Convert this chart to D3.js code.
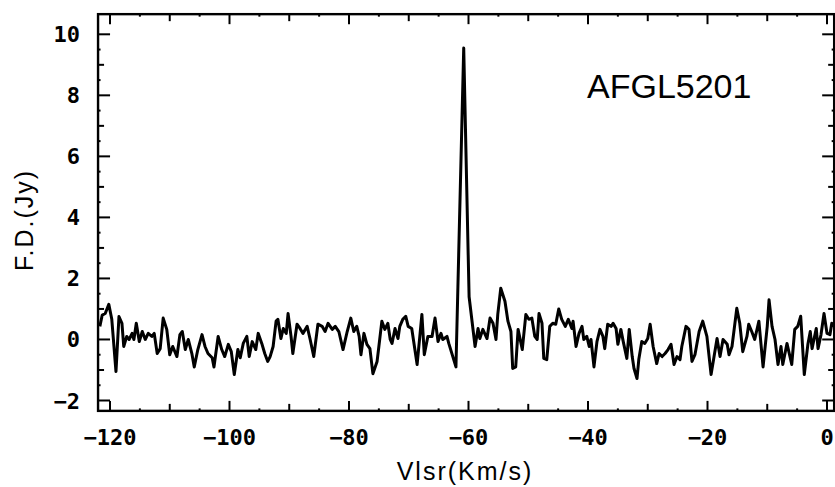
<!DOCTYPE html>
<html>
<head>
<meta charset="utf-8">
<script src="https://cdn.jsdelivr.net/npm/d3@7"></script>
<style>
  body { margin: 0; background: #fff; }
  .tick-label { font-family: "DejaVu Sans Mono", monospace; font-size: 22px; font-weight: bold; fill: #000; }
  .axis-title { font-family: "Liberation Sans", Arial, sans-serif; font-size: 25px; fill: #000; letter-spacing: 2px; }
</style>
</head>
<body>
<svg id="chart" width="835" height="487"></svg>
<script>
// spectrum: velocity (km/s) and flux density (Jy)
var vlsr = [-121.7,-121.3,-120.8,-120.2,-119.7,-119.0,-118.5,-118.0,-117.7,-117.2,-116.8,-116.3,-116.0,-115.6,-115.1,-114.6,-114.1,-113.6,-113.0,-112.6,
  -112.1,-111.6,-111.1,-110.5,-110.0,-109.5,-108.8,-108.3,-107.9,-107.4,-106.9,-106.3,-105.9,-105.3,-104.6,-104.1,-103.6,-102.9,-102.6,-101.9,
  -101.3,-100.8,-100.2,-99.7,-99.2,-98.6,-98.2,-97.7,-97.1,-96.7,-96.2,-95.6,-95.2,-94.6,-94.1,-93.6,-93.2,-92.7,-92.2,-91.9,
  -91.4,-91.0,-90.5,-90.2,-89.7,-89.4,-88.7,-88.2,-87.7,-87.0,-86.5,-85.9,-85.2,-84.5,-84.0,-83.5,-82.8,-82.3,-81.7,-81.0,
  -80.3,-79.7,-79.2,-78.7,-78.3,-78.0,-77.5,-77.0,-76.5,-76.0,-75.3,-75.0,-74.5,-74.0,-73.5,-73.1,-72.8,-72.3,-71.8,-71.5,
  -71.0,-70.5,-70.1,-69.5,-68.6,-68.1,-67.8,-67.4,-66.8,-66.1,-65.6,-65.1,-64.6,-64.3,-63.6,-63.3,-62.1,-60.8,-59.9,-58.9,
  -58.4,-58.1,-57.6,-56.9,-56.4,-55.9,-55.4,-55.1,-54.6,-53.9,-53.4,-52.9,-52.6,-52.1,-51.7,-51.0,-50.4,-49.9,-49.4,-48.9,
  -48.5,-48.2,-47.7,-47.4,-46.9,-46.4,-45.9,-45.4,-44.9,-44.4,-43.8,-43.3,-42.7,-42.5,-42.0,-41.5,-41.0,-40.7,-40.2,-39.8,
  -39.5,-39.0,-38.5,-38.0,-37.5,-37.2,-36.7,-36.1,-35.8,-35.3,-35.0,-34.5,-34.1,-33.5,-33.1,-32.6,-32.3,-31.8,-31.5,-31.0,
  -30.5,-30.0,-29.6,-29.1,-28.5,-28.1,-27.6,-27.1,-26.6,-26.1,-25.6,-25.1,-24.6,-24.3,-23.6,-23.1,-22.6,-22.1,-21.4,-20.8,
  -20.1,-19.4,-18.9,-18.4,-17.9,-17.4,-16.7,-16.4,-15.9,-15.1,-14.6,-14.1,-13.4,-13.1,-12.6,-12.1,-11.4,-10.7,-10.0,-9.7,
  -9.2,-8.7,-8.2,-7.7,-7.4,-6.7,-5.9,-5.4,-4.9,-4.4,-3.8,-3.2,-2.8,-2.5,-1.8,-1.5,-1.0,-0.5,0.0,0.5,0.8,1.2];

var flux = [0.43,0.8,0.85,1.15,0.66,-1.05,0.75,0.53,-0.23,0.1,0,0.2,0,0.53,-0.07,0.26,0,0.2,0.1,0.2,
  -0.46,-0.3,0.7,0.33,-0.5,-0.23,-0.56,0.16,0.26,-0.33,0,-0.46,-0.9,-0.33,0.16,-0.23,-0.46,-0.6,-0.9,0.1,
  -0.33,-0.56,-0.16,-0.4,-1.15,-0.33,-0.6,-0.13,0.1,-0.56,-0.07,-0.33,0.2,-0.13,-0.46,-0.72,-0.56,-0.23,0.6,0.66,
  0.03,0.36,0.2,0.85,0.1,-0.46,0.5,0.36,0.2,0.43,0,-0.56,0.5,0.43,0.26,0.53,0.33,0.43,0.26,-0.33,
  0.26,0.7,0.26,0.43,0.1,-0.5,0.2,-0.16,-0.3,-1.12,-0.72,-0.23,0.6,0.33,0.53,0,-0.13,0.36,0.03,0.43,
  0.66,0.76,0.43,0.36,-0.82,0.2,0.82,-0.5,0.1,0.1,0.7,-0.07,0.2,0,0.1,-0.13,-0.9,9.55,1.4,-0.23,
  0.36,0.03,0.33,0.03,0.7,0.53,0,0.82,1.68,1.25,0.6,0.26,-0.95,-0.9,0.33,-0.33,0.82,0.66,0.7,0.1,
  0,0.85,0.53,-0.62,-0.66,0.43,0.53,0.5,1.0,0.66,0.43,0.66,0.36,0.6,-0.23,0.2,0.43,0,0.1,-0.23,
  0,-0.9,-0.07,0.33,0.1,-0.3,0.5,0.43,0.53,0.36,-0.16,0.33,-0.07,-0.62,0.33,-0.56,-0.95,-1.28,-0.66,-0.07,
  -0.13,0.03,0.5,-0.23,-0.79,-0.46,-0.56,-0.46,-0.33,-0.16,-0.82,-0.56,-0.66,-0.23,0.43,0.33,-0.72,-0.5,0.26,0.6,
  0.1,-1.15,-0.56,0.03,-0.56,0,-0.16,-0.5,-0.23,1.02,0.53,-0.4,0.1,0.5,0.26,0,0.6,-0.9,0.43,1.3,
  0.43,0,-0.82,-0.23,-0.82,-0.13,-0.82,0.33,0.43,0.76,-1.15,-0.16,0.26,-0.3,0.36,-0.3,0.16,0.85,0.2,0.16,0.53,0.43];

var xTicks = [-120, -100, -80, -60, -40, -20, 0];
var yTicks = [-2, 0, 2, 4, 6, 8, 10];
var sourceName = "AFGL5201";

var svg = d3.select("#chart");

var x = d3.scaleLinear().domain([-120, 0]).range([110, 827]);
var y = d3.scaleLinear().domain([-2, 10]).range([400.5, 34.3]);

// plot frame in data units
var xMin = -122, xMax = 1.2, yMin = -2.34, yMax = 10.66;
var frameL = x(xMin), frameR = x(xMax), frameT = y(yMax), frameB = y(yMin);

svg.append("rect")
  .attr("x", frameL).attr("y", frameT)
  .attr("width", frameR - frameL).attr("height", frameB - frameT)
  .attr("fill", "none").attr("stroke", "#000").attr("stroke-width", 2.4);

// x ticks (bottom and top, pointing inward)
d3.range(-120, 1, 5).forEach(function(v) {
  var len = v % 20 === 0 ? 10 : (v % 10 === 0 ? 7 : 2.5);
  svg.append("line").attr("x1", x(v)).attr("x2", x(v))
    .attr("y1", frameB).attr("y2", frameB - len)
    .attr("stroke", "#000").attr("stroke-width", 2);
  svg.append("line").attr("x1", x(v)).attr("x2", x(v))
    .attr("y1", frameT).attr("y2", frameT + len)
    .attr("stroke", "#000").attr("stroke-width", 2);
});

// y ticks (left and right, pointing inward)
d3.range(-2, 10.5, 0.5).forEach(function(v) {
  var len = v % 2 === 0 ? 12 : (v % 1 === 0 ? 6 : 2.5);
  svg.append("line").attr("y1", y(v)).attr("y2", y(v))
    .attr("x1", frameL).attr("x2", frameL + len)
    .attr("stroke", "#000").attr("stroke-width", 2);
  svg.append("line").attr("y1", y(v)).attr("y2", y(v))
    .attr("x1", frameR).attr("x2", frameR - len)
    .attr("stroke", "#000").attr("stroke-width", 2);
});

// tick labels
svg.selectAll(".xlab").data(xTicks).enter().append("text")
  .attr("class", "tick-label")
  .attr("x", function(d) { return x(d); })
  .attr("y", 445)
  .attr("text-anchor", "middle")
  .text(function(d) { return d === 0 ? "0" : "\u2212" + Math.abs(d); });

svg.selectAll(".ylab").data(yTicks).enter().append("text")
  .attr("class", "tick-label")
  .attr("x", 80)
  .attr("y", function(d) { return y(d) + 8; })
  .attr("text-anchor", "end")
  .text(function(d) { return d < 0 ? "\u2212" + Math.abs(d) : d; });

// spectrum
var pts = vlsr.map(function(v, i) { return [v, flux[i]]; });
var line = d3.line()
  .x(function(d) { return x(d[0]); })
  .y(function(d) { return y(d[1]); });

svg.append("path")
  .datum(pts)
  .attr("d", line)
  .attr("fill", "none")
  .attr("stroke", "#000")
  .attr("stroke-width", 3)
  .attr("stroke-linejoin", "round");

// titles
svg.append("text")
  .attr("class", "axis-title")
  .attr("x", 465).attr("y", 480)
  .attr("text-anchor", "middle")
  .text("Vlsr(Km/s)");

svg.append("text")
  .attr("class", "axis-title")
  .attr("transform", "translate(33,220) rotate(-90)")
  .attr("text-anchor", "middle")
  .text("F.D.(Jy)");

svg.append("text")
  .attr("x", 587).attr("y", 98)
  .attr("font-family", "Liberation Sans, Arial, sans-serif")
  .attr("font-size", 34)
  .attr("fill", "#000")
  .text(sourceName);
</script>
</body>
</html>
